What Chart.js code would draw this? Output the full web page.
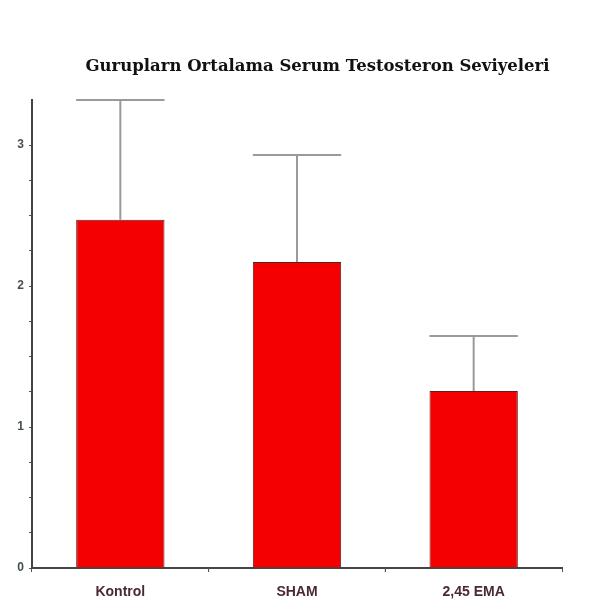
<!DOCTYPE html>
<html>
<head>
<meta charset="utf-8">
<script src="https://cdn.jsdelivr.net/npm/chart.js@4"></script>
<style>
  html, body { margin: 0; padding: 0; background: #fff; }
  #wrap { width: 603px; height: 613px; }
</style>
</head>
<body>
<div id="wrap"><canvas id="chart"></canvas></div>
<script>
// Grup ortalamaları ve standart sapmalar
const groups = ['Kontrol', 'SHAM', '2,45 EMA'];
const means = [2.47, 2.17, 1.255];
const errUp = [0.85, 0.76, 0.39];
const yTicks = [0, 1, 2, 3];
const chartTitle = 'Guruplarn Ortalama Serum Testosteron Seviyeleri';

// Üst hata çubukları (sadece yukarı)
const errorBars = {
  id: 'errorBars',
  afterDatasetsDraw(chart) {
    const ctx = chart.ctx;
    const y = chart.scales.y;
    const meta = chart.getDatasetMeta(0);
    ctx.save();
    ctx.strokeStyle = '#9a9a9a';
    ctx.lineWidth = 2;
    meta.data.forEach((bar, i) => {
      const top = y.getPixelForValue(means[i] + errUp[i]);
      const half = bar.width / 2;
      ctx.beginPath();
      ctx.moveTo(bar.x, bar.y);
      ctx.lineTo(bar.x, top);
      ctx.moveTo(bar.x - half, top);
      ctx.lineTo(bar.x + half, top);
      ctx.stroke();
    });
    ctx.restore();
  }
};

// Kategoriler arası küçük çentikler
const midTicks = {
  id: 'midTicks',
  afterDraw(chart) {
    const ctx = chart.ctx;
    const x = chart.scales.x;
    const base = chart.chartArea.bottom;
    ctx.save();
    ctx.strokeStyle = '#555';
    ctx.lineWidth = 1;
    for (let i = 0; i < groups.length - 1; i++) {
      const px = (x.getPixelForValue(i) + x.getPixelForValue(i + 1)) / 2;
      ctx.beginPath();
      ctx.moveTo(px, base);
      ctx.lineTo(px, base + 4);
      ctx.stroke();
    }
    ctx.restore();
  }
};

// Başlık (grafik alanının biraz sağında ortalı)
const titleText = {
  id: 'titleText',
  afterDraw(chart) {
    const ctx = chart.ctx;
    ctx.save();
    ctx.fillStyle = '#111';
    ctx.font = 'bold 16.5px "DejaVu Serif"';
    ctx.textAlign = 'center';
    ctx.textBaseline = 'middle';
    ctx.fillText(chartTitle, chart.width / 2 + 16, 67);
    ctx.restore();
  }
};

new Chart(document.getElementById('chart'), {
  type: 'bar',
  data: {
    labels: groups,
    datasets: [{
      data: means,
      backgroundColor: '#f40000',
      borderColor: '#5a2020',
      borderWidth: 1,
      barPercentage: 0.5,
      categoryPercentage: 1.0
    }]
  },
  options: {
    responsive: true,
    maintainAspectRatio: false,
    animation: false,
    layout: { padding: { top: 100, right: 41, left: 0, bottom: 0 } },
    plugins: {
      legend: { display: false },
      tooltip: { enabled: false },
      title: { display: false }
    },
    scales: {
      x: {
        grid: {
          drawOnChartArea: false,
          drawTicks: true,
          tickLength: 4,
          color: '#555'
        },
        border: { color: '#444', width: 2 },
        ticks: {
          color: '#4a2a30',
          font: { family: 'Liberation Sans', size: 14, weight: 'bold' },
          padding: 12
        },
        afterFit(scale) { scale.height = 45; }
      },
      y: {
        min: 0,
        max: 3.32,
        grid: {
          drawOnChartArea: false,
          drawTicks: true,
          tickLength: 3,
          color: '#555'
        },
        border: { color: '#444', width: 2 },
        ticks: {
          stepSize: 0.25,
          color: '#445050',
          font: { family: 'Liberation Sans', size: 12, weight: 'bold' },
          padding: 5,
          callback: v => yTicks.includes(v) ? String(v) : ''
        },
        afterBuildTicks(scale) {
          scale.ticks = scale.ticks.filter(t => Math.abs(t.value * 4 - Math.round(t.value * 4)) < 1e-6);
        },
        afterFit(scale) { scale.width = 32; }
      }
    }
  },
  plugins: [errorBars, midTicks, titleText]
});
</script>
</body>
</html>
